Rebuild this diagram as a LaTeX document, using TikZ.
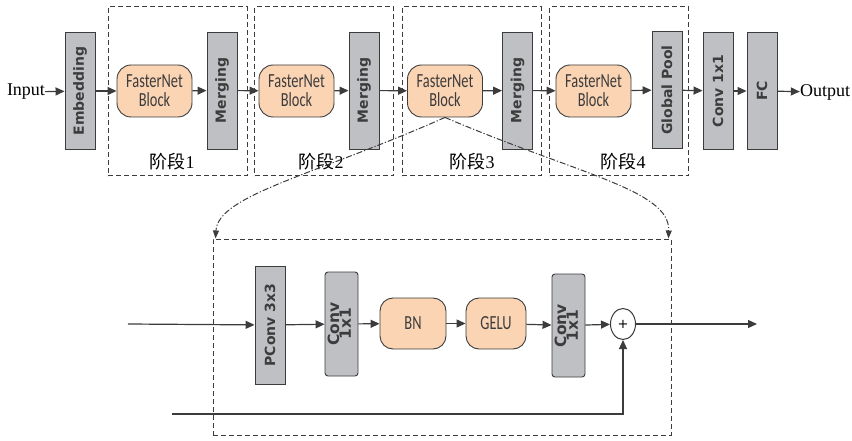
\documentclass[tikz,border=0pt]{standalone}
\usepackage{fontspec}
\setmainfont{Liberation Serif}
\setsansfont{Carlito}
\newfontfamily\dvsans{DejaVu Sans}
\newfontfamily\cjk{Noto Sans CJK SC}
\usetikzlibrary{arrows.meta,shapes.geometric}

\definecolor{boxgray}{RGB}{190,192,195}
\definecolor{boxpeach}{RGB}{251,212,180}
\definecolor{linegray}{RGB}{60,60,60}

\newcommand{\vlabel}[1]{\rotatebox{90}{\dvsans\bfseries\fontsize{14}{15}\selectfont #1}}
\newcommand{\vlabeltwo}[2]{\rotatebox{90}{\dvsans\bfseries\fontsize{15.5}{15}\selectfont\begin{tabular}{@{}c@{}}#1\\[-4pt]#2\end{tabular}}}
\newcommand{\narrow}[1]{\scalebox{0.72}[1]{#1}}
\newcommand{\stagename}[1]{{\cjk\fontsize{18}{20}\selectfont 阶段}{\fontsize{18}{20}\selectfont #1}}

\begin{document}
\begin{tikzpicture}[x=1pt,y=-1pt,
    graybox/.style={draw=linegray, line width=0.9pt, fill=boxgray, inner sep=0pt,
        minimum width=30, minimum height=117, text=linegray},
    peachbox/.style={draw=linegray, line width=0.9pt, fill=boxpeach, rounded corners=14pt,
        inner sep=0pt, minimum width=75, minimum height=52, align=center,
        font=\sffamily\fontsize{20}{19}\selectfont, text=linegray},
    stagebox/.style={draw=linegray, line width=1pt, dash pattern=on 5pt off 3pt,
        inner sep=0pt, minimum width=139, minimum height=169},
    conn/.style={draw=linegray, line width=1.2pt, -{Triangle[length=9pt,width=8pt]}},
    zoomline/.style={draw=linegray, line width=1pt, dash pattern=on 6pt off 2pt on 1.2pt off 2pt,
        -{Triangle[length=8pt,width=6pt]}},
    txt/.style={inner sep=0pt, font=\fontsize{18}{20}\selectfont}]
    \useasboundingbox (0,0) rectangle (852,441);

    % top row
    \node[txt] (in) at (26,92) {Input};
    \node[graybox] (emb) at (80,91) {\vlabel{Embedding}};

    \node[stagebox] (s1) at (177.5,91.5) {};
    \node[stagebox] (s2) at (324,91.5) {};
    \node[stagebox] (s3) at (471.5,91.5) {};
    \node[stagebox] (s4) at (619,91.5) {};

    \node[peachbox] (fb1) at (154.5,91) {\narrow{FasterNet}\\\narrow{Block}};
    \node[graybox] (mg1) at (222,90.5) {\vlabel{Merging}};
    \node[peachbox] (fb2) at (296.5,91) {\narrow{FasterNet}\\\narrow{Block}};
    \node[graybox] (mg2) at (364,90.5) {\vlabel{Merging}};
    \node[peachbox] (fb3) at (445,91) {\narrow{FasterNet}\\\narrow{Block}};
    \node[graybox] (mg3) at (517.5,90.5) {\vlabel{Merging}};
    \node[peachbox] (fb4) at (593.5,91) {\narrow{FasterNet}\\\narrow{Block}};
    \node[graybox] (gp) at (667,90) {\vlabel{Global Pool}};
    \node[graybox] (cv) at (718,91) {\vlabel{Conv 1x1}};
    \node[graybox] (fc) at (762,91) {\vlabel{FC}};
    \node[txt] (out) at (825,92) {Output};

    \node (l1) at (172,162) {\stagename{1}};
    \node (l2) at (321,162) {\stagename{2}};
    \node (l3) at (472,162) {\stagename{3}};
    \node (l4) at (623,162) {\stagename{4}};

    \draw[conn] (in) -- (emb);
    \draw[conn] (emb) -- (fb1);
    \draw[conn] (fb1) -- (mg1);
    \draw[conn] (mg1) -- (fb2);
    \draw[conn] (fb2) -- (mg2);
    \draw[conn] (mg2) -- (fb3);
    \draw[conn] (fb3) -- (mg3);
    \draw[conn] (mg3) -- (fb4);
    \draw[conn] (fb4) -- (gp);
    \draw[conn] (gp) -- (cv);
    \draw[conn] (cv) -- (fc);
    \draw[conn] (fc) -- (out);

    % block detail
    \node[stagebox, minimum width=458, minimum height=196] (blk) at (442,337) {};

    \coordinate (in2) at (128,324);
    \node[graybox, minimum height=118] (pc) at (270,325) {\vlabel{PConv 3x3}};
    \node[graybox, minimum width=33, minimum height=104, rounded corners=3pt] (c1) at (341.5,324) {\vlabeltwo{Conv}{1x1}};
    \node[peachbox, minimum width=66, minimum height=51, rounded corners=13pt] (bn) at (413,323.5) {\narrow{BN}};
    \node[peachbox, minimum width=60, minimum height=51, rounded corners=13pt] (gelu) at (496,323.5) {\narrow{GELU}};
    \node[graybox, minimum width=33, minimum height=103, rounded corners=3pt] (c2) at (568.5,325.5) {\vlabeltwo{Conv}{1x1}};
    \node[ellipse, draw=linegray, line width=1pt, fill=white, inner sep=0pt,
        minimum width=25, minimum height=31, font=\dvsans\fontsize{13}{13}\selectfont] (add) at (623,324) {+};
    \coordinate (out2) at (757,324);
    \coordinate (skip) at (172,414);

    \draw[conn] (in2) -- (pc);
    \draw[conn] (pc) -- (c1);
    \draw[conn] (c1) -- (bn);
    \draw[conn] (bn) -- (gelu);
    \draw[conn] (gelu) -- (c2);
    \draw[conn] (c2) -- (add);
    \draw[conn] (add) -- (out2);
    \draw[conn] (skip) -| (add);

    \draw[zoomline] (fb3.south) .. controls (315,175) and (218,195) .. ([xshift=3pt]blk.north west);
    \draw[zoomline] (fb3.south) .. controls (580,175) and (670,190) .. ([xshift=-3pt]blk.north east);
\end{tikzpicture}
\end{document}
